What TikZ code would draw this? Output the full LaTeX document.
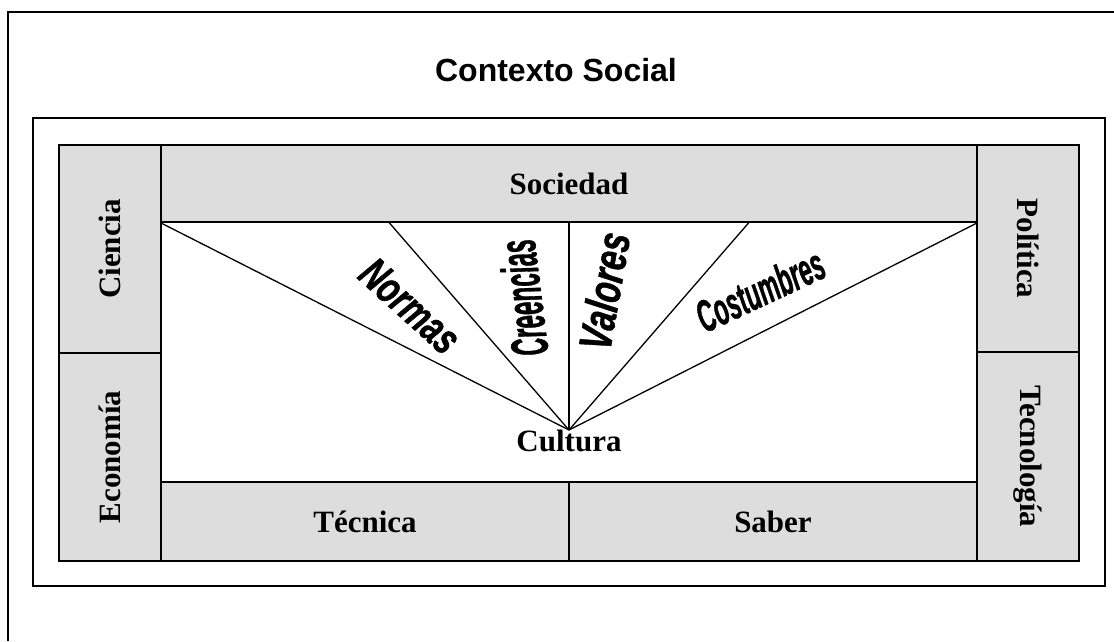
\documentclass[tikz,border=0pt]{standalone}
\usepackage{fontspec}
\setmainfont{Liberation Serif}
\setsansfont{Liberation Sans}
\newfontfamily\wordfont[FakeBold=1.2]{Liberation Sans Bold Italic}
\usepackage{xcolor}
\usepackage{tikz}
\usetikzlibrary{positioning}
\usetikzlibrary{calc}
\definecolor{boxgray}{RGB}{221,221,221}

\begin{document}
\begin{tikzpicture}[
	x=1pt,y=-1pt,
	line join=miter
]
\tikzset{
    mybox/.style = {rectangle, draw=black, line width=1.3pt, fill=boxgray, inner sep=0pt, align=center, font=\bfseries\fontsize{31}{31}\selectfont},
    myword/.style = {inner sep=0pt, font=\wordfont\fontsize{#1}{#1}\selectfont},
    myframe/.style = {draw=black, line width=1.8pt}
}
\useasboundingbox (0,0) rectangle (1114,641);
\draw[myframe] (8,641) -- (8,12) -- (1114,12);
\draw[myframe] (33,118) rectangle (1105,586);
\node[font=\sffamily\bfseries\fontsize{32}{32}\selectfont] (titulo) at (556,70) {Contexto Social};
\node[mybox,rotate=90,minimum width=208pt,minimum height=102pt] (ciencia) at (110,249) {Ciencia};
\node[mybox,rotate=90,minimum width=208pt,minimum height=102pt] (economia) at (110,457) {Economía};
\node[mybox,minimum width=816pt,minimum height=77pt] (sociedad) at (569,183.5) {Sociedad};
\node[mybox,rotate=-90,minimum width=207pt,minimum height=102pt] (politica) at (1028,248.5) {Política};
\node[mybox,rotate=-90,minimum width=209pt,minimum height=102pt] (tecnologia) at (1028,456.5) {Tecnología};
\node[mybox,minimum width=408pt,minimum height=79pt] (tecnica) at (365,521.5) {Técnica};
\node[mybox,minimum width=408pt,minimum height=79pt] (saber) at (773,521.5) {Saber};
\node[font=\bfseries\fontsize{31}{31}\selectfont,anchor=north,inner sep=0pt] (cultura) at (569,430) {Cultura};
\coordinate (c1) at ($(sociedad.south west)!0.28!(sociedad.south east)$);
\coordinate (c2) at ($(sociedad.south west)!0.72!(sociedad.south east)$);
\foreach \p in {sociedad.south west, c1, sociedad.south, c2, sociedad.south east}
    \draw[line width=1.3pt] (cultura.north) -- (\p);
\node[myword=44,rotate=-42] (normas) at (410,306) {\scalebox{0.72}[1]{Normas}};
\node[myword=52,rotate=97] (creencias) at (523,298) {\scalebox{0.47}[1]{Creencias}};
\node[myword=46,rotate=80] (valores) at (604,291) {\scalebox{0.72}[1]{Valores}};
\node[myword=45,rotate=25] (costumbres) at (760,290) {\scalebox{0.52}[1]{Costumbres}};
\end{tikzpicture}
\end{document}
